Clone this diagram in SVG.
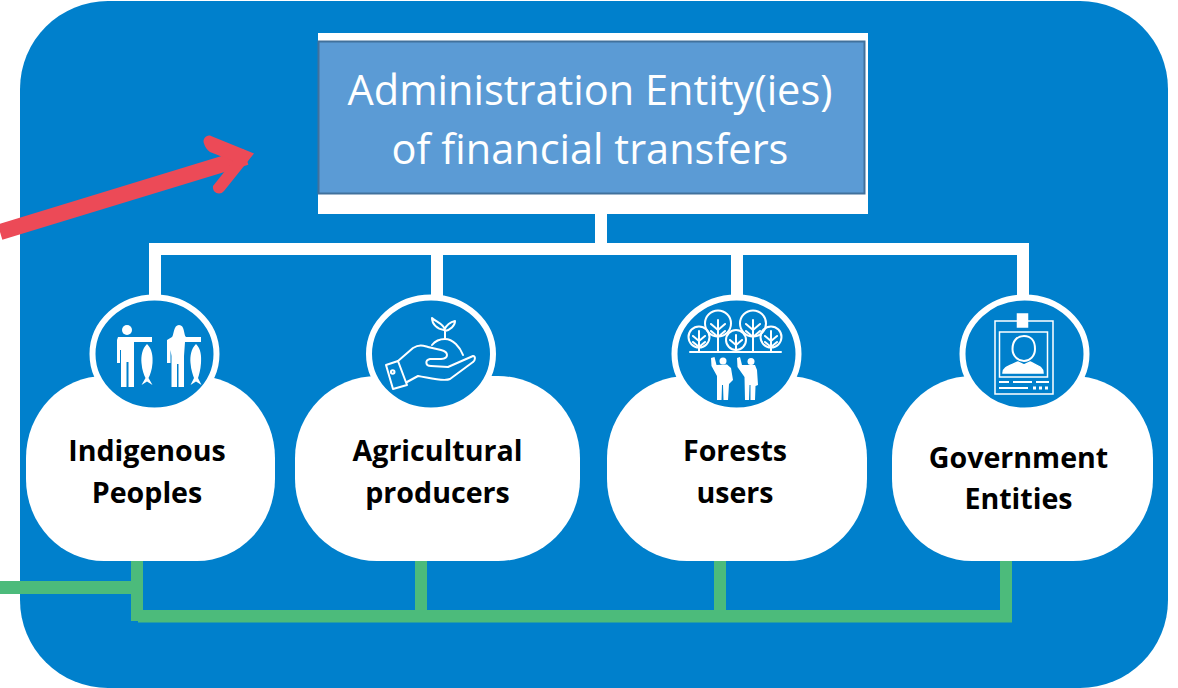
<svg xmlns="http://www.w3.org/2000/svg" width="1178" height="688" viewBox="0 0 1178 688">
<style>
.w{fill:#fff}
.b{fill:#0080CC}
.g{fill:#4CBB7B}
.ico{fill:none;stroke:#fff;stroke-width:2;stroke-linejoin:round;stroke-linecap:round}
.lbl{font-family:"Open Sans","Liberation Sans",sans-serif;font-weight:700;font-size:28.600px;fill:#000;text-anchor:middle}
.hd{font-family:"Open Sans","Liberation Sans",sans-serif;font-size:41.500px;fill:#fff;text-anchor:middle}
</style>
<rect width="1178" height="688" fill="#fff"/>
<rect id="panel" class="b" x="20" y="1" width="1148" height="687" rx="88" ry="88"/>
<g id="tree-connectors">
<rect class="w" x="595" y="212" width="12" height="34"/>
<rect class="w" x="150" y="243" width="878" height="12"/>
<rect class="w" x="149" y="243" width="12" height="56"/>
<rect class="w" x="431" y="243" width="12" height="56"/>
<rect class="w" x="731" y="243" width="12" height="56"/>
<rect class="w" x="1017" y="243" width="12" height="56"/>
</g>
<g id="admin">
<rect class="w" x="318" y="33" width="550" height="181"/>
<rect x="318.500" y="41.500" width="546" height="152" fill="#5B9BD5" stroke="#41719C" stroke-width="2"/>
<text class="hd" x="590" y="105">Administration Entity(ies)</text>
<text class="hd" x="590" y="163.500">of financial transfers</text>
</g>
<g id="indigenous">
<rect class="w" x="26" y="376" width="249" height="185" rx="78" ry="82"/>
<ellipse class="b" cx="154.500" cy="354" rx="62" ry="56.500" stroke="#fff" stroke-width="6"/>
<g fill="#fff">
<circle cx="127" cy="330" r="5"/>
<path d="M118 337H152V342H134V387H128.500V362H126.500V387H121V350H120V363H117V340Z"/>
<path d="M147 344C152 349 153 356 152.500 363C152 370 150 375 148.500 378L152.500 385L147 381.500L141.500 385L145.500 378C144 375 142 370 141.500 363C141 356 142 349 147 344Z"/>
<path d="M172 337C174 335 173.500 325 179 325C185 325 183.500 335 186 337H201V342H185L184 356V387H178.500V364H177V387H171.500V356L170.500 350V363H167V340Z"/>
<path d="M196 344C201 349 201.500 356 201 363C200.500 370 199 375 198 378L201.500 385L196 381.500L190.500 385L194 378C193 375 191 370 190.500 363C190 356 191 349 196 344Z"/>
</g>
</g>
<g id="agricultural">
<rect class="w" x="295" y="376" width="285" height="185" rx="82" ry="82"/>
<ellipse class="b" cx="431" cy="354" rx="62" ry="56.500" stroke="#fff" stroke-width="6"/>
<path class="ico" d="M386 365L398 361L407 385L393 389Z"/>
<circle class="ico" cx="392.700" cy="372" r="1.800"/>
<path class="ico" d="M398 361L413 348C420 344 424 346 428 347L441 350C449 352 449 358 441 359L430 359C425 360 425 366 431 366L448 367L473 356C476 356 475 361 473 362L450 379C444 382 430 378 418 376L407 382"/>
<path class="ico" d="M432 345C436 340 442 339 445 339C453 339 460 347 463 355"/>
<path class="ico" d="M445 339V330C444 324 436 322 432 318C432 324 437 329 444 330C446 326 450 322 455 321C455 326 450 330 445 331"/>
</g>
<g id="forests">
<rect class="w" x="607" y="376" width="260" height="185" rx="80" ry="82"/>
<ellipse class="b" cx="736.500" cy="354" rx="62" ry="56.500" stroke="#fff" stroke-width="6"/>
<g class="ico">
<circle cx="699" cy="337" r="10.500"/>
<circle cx="718" cy="323.500" r="13"/>
<circle cx="736" cy="340" r="10"/>
<circle cx="753" cy="323.500" r="13"/>
<circle cx="771" cy="337" r="10.500"/>
<path d="M690 352H781M699 352V331M693 336L699 341M705 336L699 341M693 342L699 347M705 342L699 347M718 352V320M711 324L718 330M725 324L718 330M711 331L718 337M725 331L718 337M736 352V335M730 340L736 345M742 340L736 345M753 352V320M746 324L753 330M760 324L753 330M746 331L753 337M760 331L753 337M771 352V331M765 336L771 341M777 336L771 341M765 342L771 347M777 342L771 347"/>
</g>
<g fill="#fff">
<circle cx="723" cy="361" r="3.500"/>
<circle cx="751" cy="361.500" r="3.500"/>
<path d="M711 358L714.500 357L716.500 365L727 364.500L731 368L733 380L729 384L728 400H723.500L723 385H722L721.500 400H717V376L711.500 366Z"/>
<path d="M737 358L740 357L742 365L755 365L757 370L758 385L755.500 386L755 400H750.500V385H749.500L749 400H745L744.500 377L737.500 367Z"/>
</g>
</g>
<g id="government">
<rect class="w" x="892" y="376" width="261" height="185" rx="80" ry="82"/>
<ellipse class="b" cx="1024.500" cy="354" rx="62" ry="56.500" stroke="#fff" stroke-width="6"/>
<g class="ico" style="stroke-width:1.500;stroke-linejoin:miter;stroke-linecap:butt">
<path d="M1017 321H995V394H1053V321H1028"/>
<rect x="999.500" y="332" width="48" height="45"/>
<rect x="1017.500" y="314" width="10" height="13" fill="#fff"/>
<path d="M1012.500 349C1012.500 341 1017 336 1024 336C1031 336 1035 341 1035 349C1035 356 1030 361 1024 361C1018 361 1012.500 356 1012.500 349Z" style="stroke-width:2"/>
<path d="M1003 373C1003 367 1010 366 1018 362L1024 365L1030 362C1038 366 1043 367 1043 373Z" fill="#fff"/>
<path d="M999 382H1009M1013 382H1032M1036 382H1049M999 388H1028" style="stroke-width:2"/>
<path d="M1033 388H1036M1039 388H1042M1045 388H1048" style="stroke-width:3"/>
</g>
</g>
<g id="labels">
<text class="lbl" x="147" y="461">Indigenous</text>
<text class="lbl" x="147" y="503">Peoples</text>
<text class="lbl" x="437.500" y="461">Agricultural</text>
<text class="lbl" x="437.500" y="503">producers</text>
<text class="lbl" x="735" y="461">Forests</text>
<text class="lbl" x="735" y="503">users</text>
<text class="lbl" x="1018.500" y="467.500">Government</text>
<text class="lbl" x="1018.500" y="508.500">Entities</text>
</g>
<g id="connectors">
<path d="M0 232L246 157" fill="none" stroke="#EC4A57" stroke-width="16"/>
<path d="M204 143.500C202 139 207 134 211 136L254 153.500L224 191C220 196 212 193 213 186L233 161L210 152C207 150 205 147 204 143.500Z" fill="#EC4A57"/>
<g>
<rect class="g" x="0" y="581" width="132" height="13"/>
<rect class="g" x="131" y="561" width="12" height="60"/>
<rect class="g" x="138" y="610" width="874" height="12.500"/>
<rect class="g" x="415" y="561" width="12" height="50"/>
<rect class="g" x="714" y="561" width="12" height="50"/>
<rect class="g" x="1000" y="561" width="12" height="50"/>
</g>
</g>
</svg>
